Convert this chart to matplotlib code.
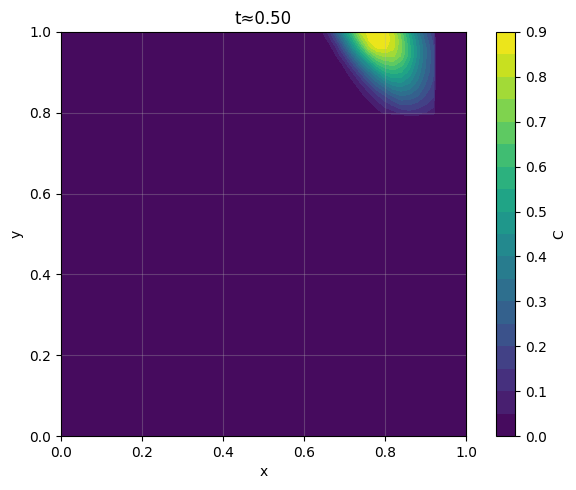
import matplotlib
matplotlib.use("Agg")
import matplotlib.pyplot as plt
import numpy as np

# grid nodes (x across, y up); C is zero outside the patch near the top right
x_nodes = [0.0, 0.60, 0.62, 0.64, 0.66, 0.68, 0.70, 0.72, 0.74, 0.76, 0.78,
           0.80, 0.82, 0.84, 0.86, 0.88, 0.90, 0.92, 0.925, 1.0]
y_nodes = [0.0, 0.79, 0.80, 0.82, 0.84, 0.86, 0.88, 0.90, 0.92, 0.94, 0.96, 0.98, 1.00]

# concentration at x = 0.62 .. 0.92, rows from y = 1.00 down to y = 0.80
c_patch = [
    [0.00, 0.02, 0.12, 0.28, 0.47, 0.64, 0.81, 0.87, 0.89, 0.88, 0.80, 0.67, 0.51, 0.37, 0.25, 0.15],
    [0.00, 0.00, 0.06, 0.18, 0.36, 0.54, 0.72, 0.85, 0.88, 0.88, 0.83, 0.70, 0.55, 0.41, 0.28, 0.18],
    [0.00, 0.00, 0.01, 0.10, 0.25, 0.43, 0.60, 0.77, 0.85, 0.86, 0.81, 0.71, 0.57, 0.43, 0.31, 0.20],
    [0.00, 0.00, 0.00, 0.05, 0.15, 0.30, 0.46, 0.61, 0.72, 0.76, 0.76, 0.69, 0.57, 0.43, 0.31, 0.21],
    [0.00, 0.00, 0.00, 0.00, 0.07, 0.19, 0.33, 0.46, 0.59, 0.65, 0.67, 0.62, 0.53, 0.41, 0.30, 0.21],
    [0.00, 0.00, 0.00, 0.00, 0.03, 0.10, 0.21, 0.33, 0.44, 0.54, 0.57, 0.55, 0.48, 0.38, 0.29, 0.20],
    [0.00, 0.00, 0.00, 0.00, 0.00, 0.05, 0.12, 0.23, 0.32, 0.41, 0.47, 0.47, 0.42, 0.35, 0.26, 0.19],
    [0.00, 0.00, 0.00, 0.00, 0.00, 0.02, 0.06, 0.13, 0.22, 0.29, 0.36, 0.38, 0.36, 0.30, 0.23, 0.17],
    [0.00, 0.00, 0.00, 0.00, 0.00, 0.00, 0.03, 0.07, 0.13, 0.19, 0.25, 0.29, 0.28, 0.25, 0.19, 0.15],
    [0.00, 0.00, 0.00, 0.00, 0.00, 0.00, 0.01, 0.03, 0.07, 0.12, 0.16, 0.20, 0.20, 0.18, 0.15, 0.11],
    [0.00, 0.00, 0.00, 0.00, 0.00, 0.00, 0.00, 0.01, 0.03, 0.06, 0.08, 0.11, 0.13, 0.12, 0.10, 0.08],
]

cbar_ticks = [0.0, 0.1, 0.2, 0.3, 0.4, 0.5, 0.6, 0.7, 0.8, 0.9]

# place the patch into the full field (rows bottom-up for contourf)
Z = np.zeros((len(y_nodes), len(x_nodes)))
Z[2:, 2:-2] = np.array(c_patch)[::-1]

fig = plt.figure(figsize=(5.76, 4.9), dpi=100)
ax = fig.add_axes([0.106, 0.110, 0.703, 0.825])
cax = fig.add_axes([0.861, 0.110, 0.033, 0.825])

cf = ax.contourf(x_nodes, y_nodes, Z, levels=np.linspace(0, 0.9, 19), cmap="viridis")
cb = fig.colorbar(cf, cax=cax, ticks=cbar_ticks)
cb.set_label("C")

ax.set_xlim(0, 1)
ax.set_ylim(0, 1)
ax.grid(alpha=0.3)
ax.set_title("t≈0.50")
ax.set_xlabel("x")
ax.set_ylabel("y")

fig.savefig("out.png", dpi=100)
